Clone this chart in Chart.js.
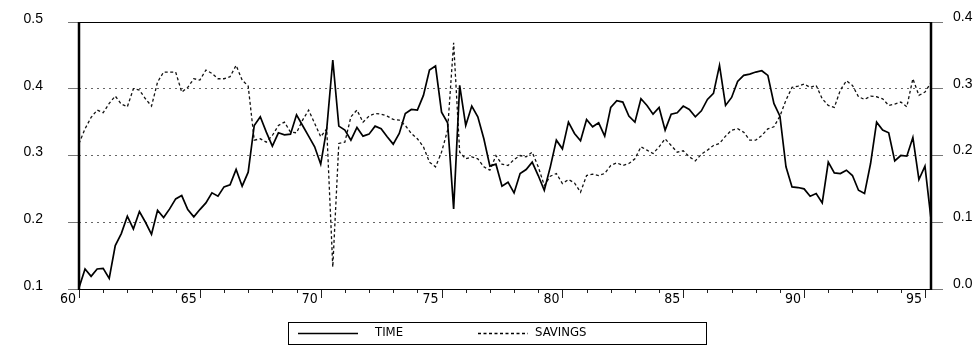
<!DOCTYPE html>
<html>
<head>
<meta charset="utf-8">
<script src="https://cdn.jsdelivr.net/npm/chart.js@4/dist/chart.umd.min.js"></script>
<style>
html,body{margin:0;padding:0;background:#fff;}
#wrap{width:977px;height:351px;position:relative;}
canvas{display:block;}
</style>
</head>
<body>
<div id="wrap"><canvas id="c" width="977" height="351"></canvas></div>
<script>
// ---- categories: quarters 1960Q1 .. 1995Q2 ----
const firstYear = 1960;
const quarterCount = 142;
const categories = [];
for (let i = 0; i < quarterCount; i++) {
  categories.push((firstYear + Math.floor(i / 4)) + 'Q' + (i % 4 + 1));
}

// ---- series ----
// TIME: left axis
const timeSeries = [
  0.102,0.130,0.119,0.130,0.131,0.116,0.165,0.183,0.209,0.190,
  0.216,0.200,0.182,0.218,0.207,0.220,0.235,0.240,0.219,0.208,
  0.219,0.229,0.244,0.239,0.253,0.256,0.279,0.254,0.275,0.345,
  0.358,0.335,0.314,0.334,0.331,0.332,0.361,0.345,0.329,0.313,
  0.287,0.340,0.443,0.344,0.338,0.323,0.342,0.329,0.332,0.344,
  0.340,0.328,0.317,0.333,0.363,0.369,0.368,0.390,0.428,0.434,
  0.365,0.349,0.220,0.405,0.345,0.374,0.358,0.325,0.284,0.287,
  0.254,0.260,0.244,0.273,0.279,0.290,0.270,0.248,0.283,0.323,
  0.310,0.350,0.333,0.322,0.354,0.343,0.349,0.329,0.372,0.382,
  0.380,0.359,0.350,0.385,0.375,0.362,0.372,0.338,0.362,0.364,
  0.374,0.369,0.358,0.367,0.384,0.393,0.435,0.375,0.387,0.411,
  0.420,0.422,0.425,0.427,0.420,0.378,0.359,0.283,0.253,0.252,
  0.250,0.239,0.243,0.229,0.290,0.274,0.273,0.278,0.270,0.248,
  0.243,0.288,0.350,0.338,0.334,0.292,0.300,0.299,0.327,0.264,
  0.284,0.205
];
// SAVINGS: right axis
const savingsSeries = [
  0.218,0.240,0.257,0.268,0.264,0.278,0.289,0.277,0.273,0.300,
  0.298,0.285,0.274,0.310,0.325,0.325,0.325,0.295,0.302,0.315,
  0.313,0.328,0.323,0.315,0.315,0.318,0.335,0.313,0.304,0.223,
  0.225,0.220,0.230,0.245,0.250,0.235,0.234,0.253,0.268,0.248,
  0.228,0.240,0.033,0.218,0.220,0.258,0.268,0.250,0.259,0.263,
  0.262,0.259,0.254,0.253,0.245,0.233,0.225,0.213,0.190,0.183,
  0.205,0.238,0.369,0.205,0.195,0.198,0.195,0.183,0.178,0.200,
  0.187,0.185,0.194,0.200,0.198,0.205,0.183,0.155,0.169,0.173,
  0.158,0.164,0.159,0.145,0.170,0.172,0.170,0.173,0.185,0.189,
  0.185,0.188,0.195,0.213,0.208,0.203,0.213,0.225,0.215,0.205,
  0.207,0.198,0.192,0.202,0.208,0.215,0.218,0.229,0.238,0.240,
  0.235,0.223,0.223,0.230,0.240,0.243,0.259,0.283,0.302,0.304,
  0.307,0.302,0.305,0.285,0.275,0.272,0.298,0.312,0.305,0.288,
  0.284,0.289,0.288,0.285,0.275,0.277,0.280,0.273,0.315,0.290,
  0.295,0.309
];

// ---- tick labels ----
const leftTickValues = [0.1, 0.2, 0.3, 0.4, 0.5];
const rightTickValues = [0.0, 0.1, 0.2, 0.3, 0.4];
const xTickCategories = ['1960Q1','1965Q1','1970Q1','1975Q1','1980Q1','1985Q1','1990Q1','1995Q1'];
const xTickLabels = ['60','65','70','75','80','85','90','95'];
const seriesNames = ['TIME', 'SAVINGS'];

const NARROW = "'Liberation Sans Narrow', 'DejaVu Sans Condensed', 'Arial Narrow', sans-serif";
const SANS = "'Liberation Sans', Arial, sans-serif";

const framePlugin = {
  id: 'frame',
  afterDraw(chart) {
    const ctx = chart.ctx;
    const a = chart.chartArea;
    const xs = chart.scales.x;
    ctx.save();
    // year tick marks below the x axis
    ctx.strokeStyle = '#222';
    ctx.lineWidth = 1;
    categories.forEach((c, i) => {
      if (!c.endsWith('Q1')) return;
      const yr = parseInt(c, 10);
      const x = Math.round(xs.getPixelForValue(i)) + 0.5;
      const len = (yr % 5 === 0) ? 9 : 4;
      ctx.beginPath();
      ctx.moveTo(x, a.bottom);
      ctx.lineTo(x, a.bottom + len);
      ctx.stroke();
    });
    // frame
    ctx.strokeStyle = '#000';
    ctx.lineWidth = 1.2;
    ctx.beginPath();
    ctx.moveTo(a.left, a.top + 0.5); ctx.lineTo(a.right, a.top + 0.5);
    ctx.stroke();
    ctx.lineWidth = 1;
    ctx.beginPath();
    ctx.moveTo(a.left, a.bottom + 0.5); ctx.lineTo(a.right, a.bottom + 0.5);
    ctx.stroke();
    ctx.lineWidth = 2.5;
    ctx.beginPath();
    ctx.moveTo(a.left, a.top); ctx.lineTo(a.left, a.bottom + 1);
    ctx.moveTo(a.right, a.top); ctx.lineTo(a.right, a.bottom + 1);
    ctx.stroke();

    // legend box
    const ds = chart.data.datasets;
    ctx.lineWidth = 1;
    ctx.strokeStyle = '#000';
    ctx.strokeRect(288.5, 322.5, 418, 22);
    ctx.font = '13px ' + NARROW;
    ctx.fillStyle = '#000';
    ctx.textBaseline = 'middle';
    ctx.textAlign = 'left';
    // item 1
    ctx.lineWidth = 1.3;
    ctx.setLineDash([]);
    ctx.beginPath(); ctx.moveTo(298, 333.5); ctx.lineTo(358, 333.5); ctx.stroke();
    ctx.fillText(ds[0].label, 375, 333);
    // item 2
    ctx.lineWidth = ds[1].borderWidth;
    ctx.setLineDash(ds[1].borderDash);
    ctx.beginPath(); ctx.moveTo(478, 333.5); ctx.lineTo(528, 333.5); ctx.stroke();
    ctx.setLineDash([]);
    ctx.fillText(ds[1].label, 535, 333);
    ctx.restore();
  }
};

function fixVertical(width) {
  return function (s) {
    s.width = width;
    s.paddingTop = 0;
    s.paddingBottom = 0;
  };
}

new Chart(document.getElementById('c'), {
  type: 'line',
  data: {
    labels: categories,
    datasets: [
      {
        label: seriesNames[0],
        data: timeSeries,
        yAxisID: 'y',
        borderColor: '#000',
        borderWidth: 1.7,
        pointRadius: 0,
        tension: 0,
        fill: false
      },
      {
        label: seriesNames[1],
        data: savingsSeries,
        yAxisID: 'y1',
        borderColor: '#111',
        borderWidth: 1.3,
        borderDash: [3, 2.5],
        pointRadius: 0,
        tension: 0,
        fill: false
      }
    ]
  },
  options: {
    responsive: false,
    animation: false,
    devicePixelRatio: 1,
    layout: { padding: { top: 22, left: 0, right: 0, bottom: 0 } },
    plugins: { legend: { display: false }, tooltip: { enabled: false } },
    scales: {
      x: {
        type: 'category',
        grid: { display: false, drawTicks: false },
        border: { display: false },
        ticks: {
          autoSkip: false,
          maxRotation: 0,
          minRotation: 0,
          align: 'end',
          labelOffset: -3,
          padding: 2,
          color: '#000',
          font: { family: NARROW, size: 14 },
          callback: function (v, i) {
            const k = xTickCategories.indexOf(categories[i]);
            return k >= 0 ? xTickLabels[k] : null;
          }
        },
        afterFit: function (s) { s.height = 62; s.paddingLeft = 0; s.paddingRight = 0; }
      },
      y: {
        type: 'linear',
        position: 'left',
        min: leftTickValues[0],
        max: leftTickValues[leftTickValues.length - 1],
        afterBuildTicks: function (s) { s.ticks = leftTickValues.map(v => ({ value: v })); },
        grid: {
          drawOnChartArea: true,
          color: function (c) {
            const v = c.tick ? c.tick.value : null;
            return (v !== null && v > 0.15 && v < 0.45) ? '#666' : 'rgba(0,0,0,0)';
          },
          lineWidth: 1,
          tickColor: '#777',
          tickLength: 11
        },
        border: { display: false, dash: [2, 4] },
        ticks: {
          padding: 25,
          labelOffset: -3,
          color: '#000',
          font: { family: SANS, size: 14 },
          callback: v => Number(v).toFixed(1)
        },
        afterFit: fixVertical(79)
      },
      y1: {
        type: 'linear',
        position: 'right',
        min: rightTickValues[0],
        max: rightTickValues[rightTickValues.length - 1],
        afterBuildTicks: function (s) { s.ticks = rightTickValues.map(v => ({ value: v })); },
        grid: {
          drawOnChartArea: false,
          color: '#777',
          tickColor: '#777',
          tickLength: 12
        },
        border: { display: false },
        ticks: {
          padding: 10,
          labelOffset: -5,
          color: '#000',
          font: { family: SANS, size: 14 },
          callback: v => Number(v).toFixed(1)
        },
        afterFit: fixVertical(46)
      }
    }
  },
  plugins: [framePlugin]
});
</script>
</body>
</html>
